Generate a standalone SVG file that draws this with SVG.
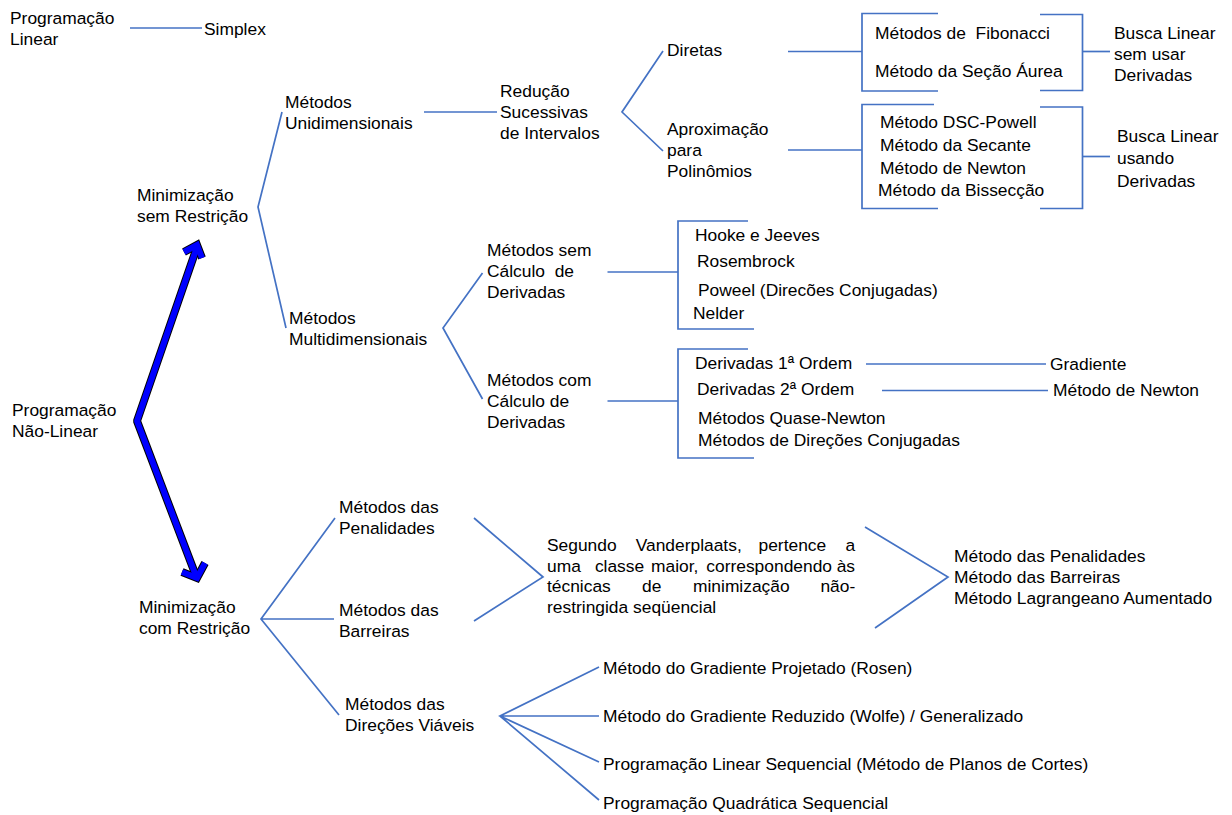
<svg xmlns="http://www.w3.org/2000/svg" width="1232" height="815" viewBox="0 0 1232 815">
<style>
text{font-family:"Liberation Sans",Arial,sans-serif;font-size:17.4px;fill:#000;white-space:pre}
.c{fill:none;stroke:#4472C4;stroke-width:1.7}
.ao{fill:none;stroke:#000;stroke-width:8;stroke-linejoin:miter;stroke-linecap:butt}
.ai{fill:none;stroke:#0000FF;stroke-width:6;stroke-linejoin:miter;stroke-linecap:butt}
.vo{fill:none;stroke:#000;stroke-width:8;stroke-linejoin:bevel}
.vi{fill:none;stroke:#0000FF;stroke-width:6;stroke-linejoin:bevel}
</style>
<rect width="1232" height="815" fill="#fff"/>

<g id="connectors">
  <path class="c" d="M130,28H202"/>
  <path class="c" d="M282,112L258,207L286,328"/>
  <path class="c" d="M424,112H497"/>
  <path class="c" d="M663,51L622,112L663,151"/>
  <path class="c" d="M788,51.5H862"/>
  <path class="c" d="M788,150H862"/>
  <path class="c" d="M938,13.5H862V91H938"/>
  <path class="c" d="M1040,14.5H1082.5V90.5H1040"/>
  <path class="c" d="M1082.5,51.5H1110"/>
  <path class="c" d="M934,104.5H862V208.5H938"/>
  <path class="c" d="M1040,107H1082.5V208.5H1040"/>
  <path class="c" d="M1082.5,156.5H1110"/>
  <path class="c" d="M482.5,273L443,328L482.5,399"/>
  <path class="c" d="M607.5,272H678"/>
  <path class="c" d="M748,221H678V329H754"/>
  <path class="c" d="M607.5,401H678"/>
  <path class="c" d="M748,349H678V458H754"/>
  <path class="c" d="M866,364H1046"/>
  <path class="c" d="M882,390.5H1048"/>
  <path class="c" d="M335,518L261,619L339,715M261,619H334"/>
  <path class="c" d="M474,518L543,577L474,621"/>
  <path class="c" d="M865,527L948,577L875,628"/>
  <path class="c" d="M599,667L500,716L599,762M500,716H599M500,716L599,800"/>
  <g id="big-arrows">
    <path class="vo" d="M197,247L137,421L196,576"/>
    <path class="ao" d="M184,252L197,245L202,258M182,572L197,578L205,563"/>
    <path class="vi" d="M197,247L137,421L196,576"/>
    <path class="ai" d="M184,252L197,245L202,258M182,572L197,578L205,563"/>
  </g>
</g>

<g id="prog-linear"><text x="10" y="23.5">Programação</text><text x="10" y="44.5">Linear</text></g>
<g id="simplex"><text x="204" y="34.5">Simplex</text></g>
<g id="prog-nao-linear"><text x="12" y="416">Programação</text><text x="12" y="437">Não-Linear</text></g>
<g id="min-sem-restricao"><text x="137" y="201">Minimização</text><text x="137" y="222">sem Restrição</text></g>
<g id="unidimensionais"><text x="285" y="108">Métodos</text><text x="285" y="129">Unidimensionais</text></g>
<g id="multidimensionais"><text x="289" y="324">Métodos</text><text x="289" y="345">Multidimensionais</text></g>
<g id="reducao"><text x="500" y="96.5">Redução</text><text x="500" y="118">Sucessivas</text><text x="500" y="139">de Intervalos</text></g>
<g id="diretas"><text x="667" y="56">Diretas</text></g>
<g id="aproximacao"><text x="667" y="135">Aproximação</text><text x="667" y="156">para</text><text x="667" y="177">Polinômios</text></g>
<g id="diretas-metodos"><text x="875" y="38.5">Métodos de  Fibonacci</text><text x="875" y="77">Método da Seção Áurea</text></g>
<g id="busca-sem"><text x="1114" y="39">Busca Linear</text><text x="1114" y="60">sem usar</text><text x="1114" y="80.5">Derivadas</text></g>
<g id="aprox-metodos"><text x="880" y="127.5">Método DSC-Powell</text><text x="880" y="151">Método da Secante</text><text x="880" y="174">Método de Newton</text><text x="878" y="196">Método da Bissecção</text></g>
<g id="busca-usando"><text x="1117" y="142">Busca Linear</text><text x="1117" y="164">usando</text><text x="1117" y="186.5">Derivadas</text></g>
<g id="sem-calculo"><text x="487" y="256">Métodos sem</text><text x="487" y="277">Cálculo  de</text><text x="487" y="298">Derivadas</text></g>
<g id="sem-calculo-metodos"><text x="695" y="241">Hooke e Jeeves</text><text x="697" y="267">Rosembrock</text><text x="698" y="296">Poweel (Direcões Conjugadas)</text><text x="693" y="319">Nelder</text></g>
<g id="com-calculo"><text x="487" y="386">Métodos com</text><text x="487" y="407">Cálculo de</text><text x="487" y="428">Derivadas</text></g>
<g id="com-calculo-metodos"><text x="695" y="369">Derivadas 1ª Ordem</text><text x="697" y="395">Derivadas 2ª Ordem</text><text x="698" y="424">Métodos Quase-Newton</text><text x="698" y="446">Métodos de Direções Conjugadas</text></g>
<g id="gradiente"><text x="1050" y="370">Gradiente</text></g>
<g id="newton"><text x="1053" y="396">Método de Newton</text></g>
<g id="min-com-restricao"><text x="139" y="612.5">Minimização</text><text x="139" y="634">com Restrição</text></g>
<g id="penalidades"><text x="339" y="513">Métodos das</text><text x="339" y="534">Penalidades</text></g>
<g id="barreiras"><text x="339" y="616">Métodos das</text><text x="339" y="637">Barreiras</text></g>
<g id="direcoes-viaveis"><text x="345" y="710">Métodos das</text><text x="345" y="731">Direções Viáveis</text></g>
<g id="vanderplaats">
  <text y="550.5"><tspan x="547">Segundo</tspan><tspan x="635.7">Vanderplaats,</tspan><tspan x="758.5">pertence</tspan><tspan x="845.4">a</tspan></text>
  <text y="571.5"><tspan x="547">uma</tspan><tspan x="594.9">classe</tspan><tspan x="651">maior,</tspan><tspan x="706.3">correspondendo</tspan><tspan x="836.7">às</tspan></text>
  <text y="592"><tspan x="547">técnicas</tspan><tspan x="642">de</tspan><tspan x="693">minimização</tspan><tspan x="820.4">não-</tspan></text>
  <text x="547" y="612.5">restringida seqüencial</text>
</g>
<g id="seq-metodos"><text x="954" y="561.5">Método das Penalidades</text><text x="954" y="583">Método das Barreiras</text><text x="954" y="604">Método Lagrangeano Aumentado</text></g>
<g id="gradiente-projetado"><text x="603" y="673.5">Método do Gradiente Projetado (Rosen)</text></g>
<g id="gradiente-reduzido"><text x="603" y="721.5">Método do Gradiente Reduzido (Wolfe) / Generalizado</text></g>
<g id="plin-seq"><text x="603" y="770">Programação Linear Sequencial (Método de Planos de Cortes)</text></g>
<g id="pquad-seq"><text x="603" y="808.5">Programação Quadrática Sequencial</text></g>
</svg>
